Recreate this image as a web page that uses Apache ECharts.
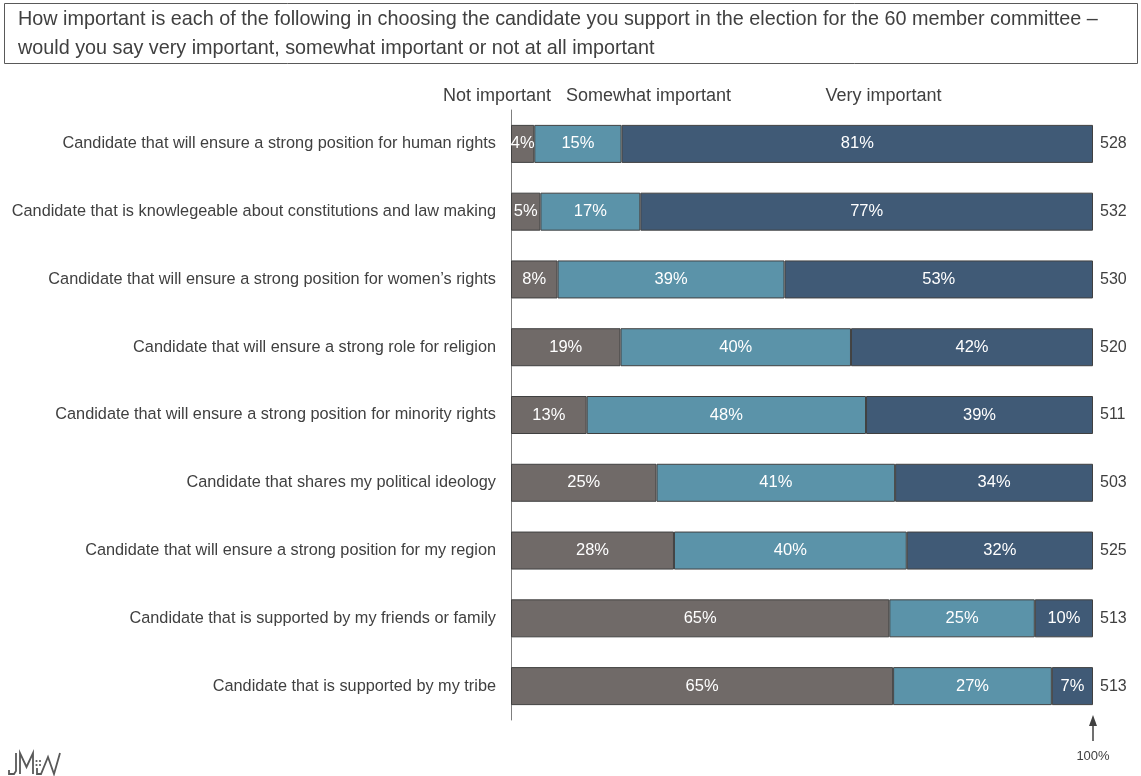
<!DOCTYPE html>
<html>
<head>
<meta charset="utf-8">
<script src="https://cdn.jsdelivr.net/npm/echarts@6/dist/echarts.min.js"></script>
<style>
  html, body { margin: 0; padding: 0; background: #fff; }
  #chart { width: 1141px; height: 776px; }
</style>
</head>
<body>
<div id="chart"></div>
<script>
// Survey items, top to bottom
const categories = [
  'Candidate that will ensure a strong position for human rights',
  'Candidate that is knowlegeable about constitutions and law making',
  'Candidate that will ensure a strong position for women\u2019s rights',
  'Candidate that will ensure a strong role for religion',
  'Candidate that will ensure a strong position for minority rights',
  'Candidate that shares my political ideology',
  'Candidate that will ensure a strong position for my region',
  'Candidate that is supported by my friends or family',
  'Candidate that is supported by my tribe'
];
// Percent of respondents per answer
const notImportant      = [4, 5, 8, 19, 13, 25, 28, 65, 65];
const somewhatImportant = [15, 17, 39, 40, 48, 41, 40, 25, 27];
const veryImportant     = [81, 77, 53, 42, 39, 34, 32, 10, 7];
// Number of respondents per item
const respondents = [528, 532, 530, 520, 511, 503, 525, 513, 513];

const seriesNames = ['Not important', 'Somewhat important', 'Very important'];
const colors = ['#706a68', '#5b93a9', '#405a76'];
const groups = [notImportant, somewhatImportant, veryImportant];

// Each row is scaled to a full 100% bar; labels keep the reported percentages
const rowTotals = categories.map((_, i) => groups.reduce((s, g) => s + g[i], 0));

const FONT = 'Liberation Sans, Arial, sans-serif';
const TEXT = '#404040';

const series = groups.map((g, k) => ({
  name: seriesNames[k],
  type: 'bar',
  stack: 'total',
  barWidth: 38,
  itemStyle: { color: colors[k], borderColor: '#404040', borderWidth: 1 },
  label: {
    show: true,
    position: 'inside',
    color: '#ffffff',
    fontSize: 16.5,
    fontFamily: FONT,
    formatter: p => g[p.dataIndex] + '%'
  },
  data: g.map((v, i) => v / rowTotals[i] * 100)
}));

const chart = echarts.init(document.getElementById('chart'), null, { renderer: 'canvas' });

chart.setOption({
  animation: false,
  textStyle: { fontFamily: FONT },
  grid: { left: 511, right: 48, top: 110, bottom: 56 },
  xAxis: {
    type: 'value', min: 0, max: 100,
    show: false
  },
  yAxis: [
    {
      type: 'category',
      inverse: true,
      data: categories,
      axisLine: { show: true, lineStyle: { color: '#7f7f7f', width: 1 } },
      axisTick: { show: false },
      axisLabel: { margin: 15, color: TEXT, fontSize: 16.3, fontFamily: FONT }
    },
    {
      type: 'category',
      inverse: true,
      position: 'right',
      data: respondents.map(String),
      axisLine: { show: false },
      axisTick: { show: false },
      axisLabel: { margin: 7, color: TEXT, fontSize: 16, fontFamily: FONT }
    }
  ],
  series: series,
  graphic: [
    // Question box
    {
      type: 'rect',
      shape: { x: 4.5, y: 3.5, width: 1133, height: 60 },
      style: { fill: '#fff', stroke: '#595959', lineWidth: 1 }
    },
    {
      type: 'text', x: 18, y: 5.5,
      style: {
        text: 'How important is each of the following in choosing the candidate you support in the election for the 60 member committee \u2013\nwould you say very important, somewhat important or not at all important',
        fill: TEXT, font: '19.8px ' + FONT, lineHeight: 28.5
      }
    },
    // Column headings
    { type: 'text', x: 497, y: 96, style: { text: 'Not important', fill: TEXT, font: '18px ' + FONT, align: 'center', verticalAlign: 'middle' } },
    { type: 'text', x: 648.5, y: 96, style: { text: 'Somewhat important', fill: TEXT, font: '18px ' + FONT, align: 'center', verticalAlign: 'middle' } },
    { type: 'text', x: 883.5, y: 96, style: { text: 'Very important', fill: TEXT, font: '18px ' + FONT, align: 'center', verticalAlign: 'middle' } },
    // 100% marker
    { type: 'line', shape: { x1: 1093, y1: 741, x2: 1093, y2: 724 }, style: { stroke: TEXT, lineWidth: 1.5 } },
    { type: 'polygon', shape: { points: [[1093, 715], [1089, 726], [1097, 726]] }, style: { fill: TEXT } },
    { type: 'text', x: 1093, y: 756, style: { text: '100%', fill: TEXT, font: '13px ' + FONT, align: 'center', verticalAlign: 'middle' } },
    // Logo
    {
      type: 'group', x: 9, y: 753,
      children: [
        { type: 'polyline', shape: { points: [[7, 0], [7, 18], [5, 21], [0, 21], [0, 17]] }, style: { stroke: '#595959', lineWidth: 1.8, fill: null } },
        { type: 'polyline', shape: { points: [[11, 21], [11, 0], [17.5, 14], [24, 0], [24, 21]] }, style: { stroke: '#595959', lineWidth: 1.8, fill: null } },
        { type: 'circle', shape: { cx: 27.5, cy: 8, r: 1.1 }, style: { fill: '#595959' } },
        { type: 'circle', shape: { cx: 31, cy: 8, r: 1.1 }, style: { fill: '#595959' } },
        { type: 'circle', shape: { cx: 27.5, cy: 12, r: 1.1 }, style: { fill: '#595959' } },
        { type: 'circle', shape: { cx: 31, cy: 12, r: 1.1 }, style: { fill: '#595959' } },
        { type: 'polyline', shape: { points: [[28, 15], [28, 21], [32, 21], [39, 4], [45, 21], [51, 0]] }, style: { stroke: '#595959', lineWidth: 1.8, fill: null } }
      ]
    }
  ]
});
</script>
</body>
</html>
